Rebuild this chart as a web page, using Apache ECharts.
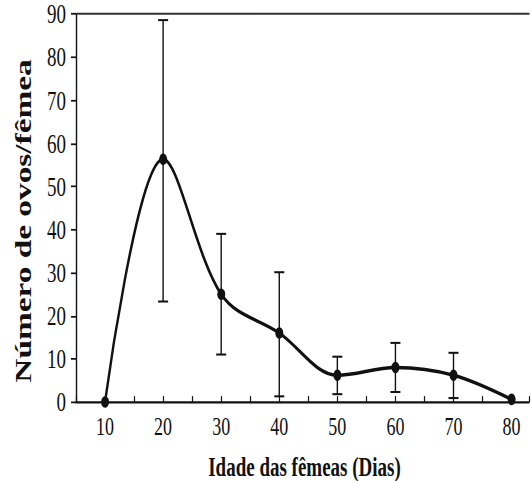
<!DOCTYPE html>
<html>
<head>
<meta charset="utf-8">
<script src="https://cdn.jsdelivr.net/npm/echarts@6/dist/echarts.min.js"></script>
<style>
html,body{margin:0;padding:0;background:#fff;overflow:hidden;}
#wrap{width:532px;height:481px;overflow:hidden;}
#chart{width:532px;height:331.7px;transform:scaleY(1.45);transform-origin:0 0;}
</style>
</head>
<body>
<div id="wrap"><div id="chart"></div></div>
<script>
// Data
const ages = [10, 20, 30, 40, 50, 60, 70, 80];
const eggs = [0, 56.3, 25, 16, 6.2, 8, 6.2, 0.6];
const errLow = [null, 23.3, 11, 1.3, 1.8, 2.3, 0.9, null];
const errHigh = [null, 88.6, 39, 30.1, 10.5, 13.7, 11.4, null];
const xTickLabels = [10, 20, 30, 40, 50, 60, 70, 80];
const yTickLabels = [0, 10, 20, 30, 40, 50, 60, 70, 80, 90];
const xTitle = 'Idade das fêmeas (Dias)';
const yTitle = 'Número de ovos/fêmea';

const lineData = ages.map((a, i) => [a, eggs[i]]);
const errData = [];
ages.forEach((a, i) => { if (errLow[i] != null) errData.push([a, errLow[i], errHigh[i]]); });

const chart = echarts.init(document.getElementById('chart'), null, {renderer: 'svg'});
const ink = '#111';
const serif = '"Liberation Serif", "Times New Roman", serif';

chart.setOption({
  animation: false,
  backgroundColor: '#fff',
  grid: {left: 76, right: 0, top: 9.7, bottom: 54.8, containLabel: false},
  xAxis: [{
    type: 'value', min: 5, max: 83, interval: 5,
    axisLine: {show: true, onZero: false, lineStyle: {color: ink, width: 1.4}},
    axisTick: {show: true, inside: true, length: 4, lineStyle: {color: ink, width: 1.2}},
    axisLabel: {
      margin: 8, color: ink, fontFamily: serif, fontSize: 18,
      formatter: v => xTickLabels.indexOf(v) >= 0 ? String(v) : '',
      showMinLabel: true, showMaxLabel: true
    },
    splitLine: {show: false}
  }, {
    type: 'value', position: 'top', min: 5, max: 83,
    axisLine: {show: true, onZero: false, lineStyle: {color: '#333', width: 1.3}},
    axisTick: {show: false}, axisLabel: {show: false}, splitLine: {show: false}
  }],
  yAxis: {
    type: 'value', min: 0, max: 90, interval: 10,
    axisLine: {show: true, lineStyle: {color: ink, width: 1.4}},
    axisTick: {show: true, inside: false, length: 5, lineStyle: {color: ink, width: 1.2}},
    axisLabel: {
      margin: 10, color: ink, fontFamily: serif, fontSize: 19,
      formatter: v => yTickLabels.indexOf(v) >= 0 ? String(v) : ''
    },
    splitLine: {show: false}
  },
  graphic: [
    {type: 'text', silent: true,
     x: 304.5, y: 322,
     style: {text: xTitle, fill: ink, font: 'bold 19px ' + serif, textAlign: 'center', textVerticalAlign: 'middle'}},
    {type: 'text', silent: true,
     x: 23, y: 152.4, rotation: Math.PI / 2,
     style: {text: yTitle, fill: ink, font: 'bold 23px ' + serif, textAlign: 'center', textVerticalAlign: 'middle'}}
  ],
  series: [{
    type: 'custom',
    z: 1,
    data: errData,
    renderItem: function (params, api) {
      const x = api.value(0);
      const lo = api.coord([x, api.value(1)]);
      const hi = api.coord([x, api.value(2)]);
      const hw = 5;
      const st = {stroke: ink, lineWidth: 1.4};
      return {type: 'group', children: [
        {type: 'line', shape: {x1: lo[0], y1: lo[1], x2: hi[0], y2: hi[1]}, style: st},
        {type: 'line', shape: {x1: lo[0] - hw, y1: lo[1], x2: lo[0] + hw, y2: lo[1]}, style: st},
        {type: 'line', shape: {x1: hi[0] - hw, y1: hi[1], x2: hi[0] + hw, y2: hi[1]}, style: st}
      ]};
    }
  }, {
    type: 'line',
    z: 3,
    data: lineData,
    smooth: 0.35,
    symbol: 'circle',
    symbolSize: 8,
    itemStyle: {color: ink},
    lineStyle: {color: ink, width: 2.4},
    clip: false
  }]
});
</script>
</body>
</html>
